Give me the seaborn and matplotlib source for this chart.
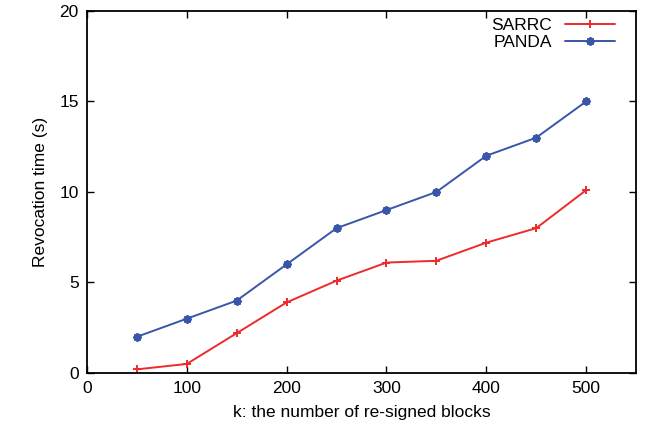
import pandas as pd
import matplotlib.pyplot as plt
import seaborn as sns

# dados
k_blocks = [50, 100, 150, 200, 250, 300, 350, 400, 450, 500]
sarrc = [0.2, 0.5, 2.2, 3.9, 5.1, 6.1, 6.2, 7.2, 8.0, 10.1]
panda = [2, 3, 4, 6, 8, 9, 10, 12, 13, 15]
series_names = ["SARRC", "PANDA"]

df = pd.DataFrame({
    "k": k_blocks * 2,
    "tempo": sarrc + panda,
    "esquema": [series_names[0]] * len(k_blocks) + [series_names[1]] * len(k_blocks),
})

sns.set_theme(style="ticks")
plt.rcParams["font.family"] = ["Liberation Sans", "DejaVu Sans"]
plt.rcParams["text.color"] = "black"
plt.rcParams["axes.labelcolor"] = "black"

fig = plt.figure(figsize=(6.49, 4.32), dpi=100)
ax = fig.add_axes([0.134, 0.1366, 0.846, 0.838])

cores = {"SARRC": "#ee2a2a", "PANDA": "#3a56a8"}
marcadores = {"SARRC": "+", "PANDA": (8, 2, 0)}

sns.lineplot(data=df, x="k", y="tempo", hue="esquema", style="esquema",
             palette=cores, markers=marcadores, dashes=False,
             markersize=6, linewidth=1.4, ax=ax)

# marcadores com a cor da linha
for ln in ax.get_lines():
    ln.set_markeredgecolor(ln.get_color())
    ln.set_markeredgewidth(1.4)

ax.set_xlim(0, 550)
ax.set_ylim(0, 20)
ax.set_xticks([0, 100, 200, 300, 400, 500])
ax.set_yticks([0, 5, 10, 15, 20])
ax.tick_params(direction="in", top=True, right=True, length=5, width=1,
               labelsize=12.5, colors="black", pad=6)
for s in ax.spines.values():
    s.set_linewidth(1.3)
    s.set_color("black")

ax.set_xlabel("k: the number of re-signed blocks", fontsize=12.5, labelpad=6)
ax.set_ylabel("Revocation time (s)", fontsize=12.5, labelpad=8)

leg = ax.legend(loc="upper right", bbox_to_anchor=(0.962, 0.982),
                frameon=False, markerfirst=False, borderpad=0,
                fontsize=12.5, handlelength=2.9, borderaxespad=0,
                labelspacing=0.15, handletextpad=0.75)
for h in leg.legend_handles:
    h.set_markeredgecolor(h.get_color())
    h.set_markeredgewidth(1.4)
for t in leg.get_texts():
    t.set_ha("right")
    t.set_color("black")

fig.savefig("out.png", dpi=100)
